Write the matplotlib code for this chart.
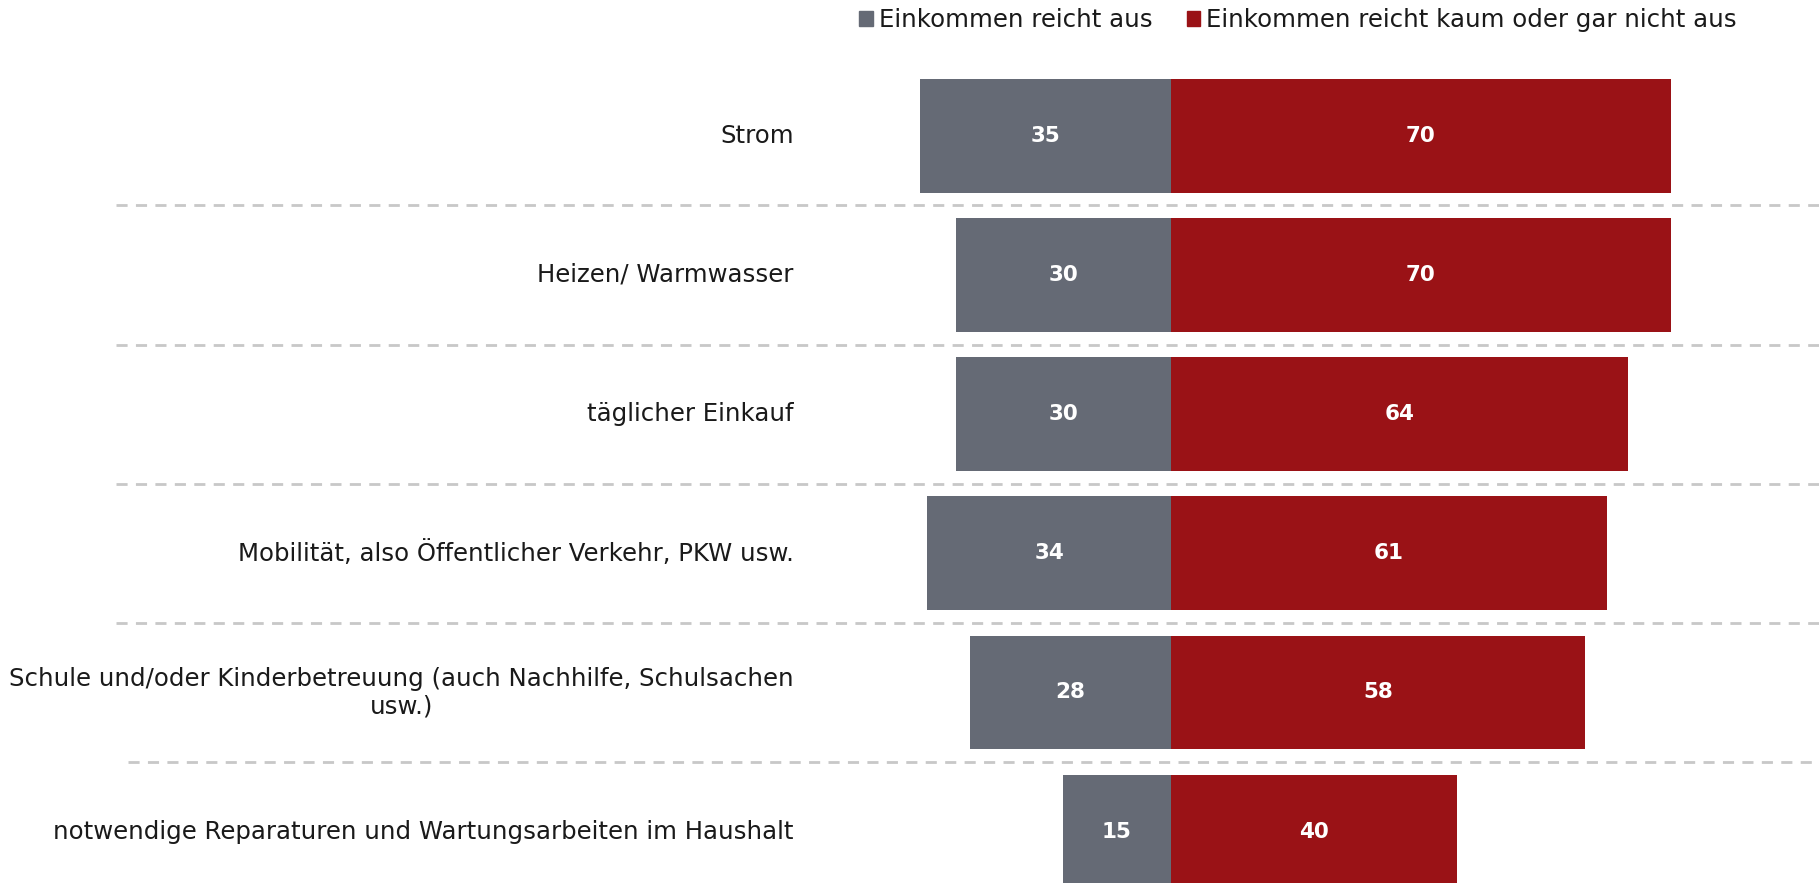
import matplotlib
matplotlib.use("Agg")
import matplotlib.pyplot as plt
import matplotlib.transforms as mtransforms
from matplotlib.patches import Patch

# data
categories = [
    "Strom",
    "Heizen/ Warmwasser",
    "täglicher Einkauf",
    "Mobilität, also Öffentlicher Verkehr, PKW usw.",
    "Schule und/oder Kinderbetreuung (auch Nachhilfe, Schulsachen\nusw.)",
    "notwendige Reparaturen und Wartungsarbeiten im Haushalt",
]
reicht_aus = [35, 30, 30, 34, 28, 15]
reicht_nicht = [70, 70, 64, 61, 58, 40]
series_names = ["Einkommen reicht aus", "Einkommen reicht kaum oder gar nicht aus"]

GREY = "#656a75"
RED = "#9a1216"
TEXT = "#1a1a1a"

plt.rcParams["font.family"] = ["DejaVu Sans"]

W, H, DPI = 1819, 883, 100
fig = plt.figure(figsize=(W / DPI, H / DPI), dpi=DPI)
ax = fig.add_axes([0, 0, 1, 1])

# pixel geometry of the reference
zero_px = 1170.6
px_per_unit = 7.15
row0_px = 135.7
pitch_px = 139.2

ax.set_xlim(-zero_px / px_per_unit, (W - zero_px) / px_per_unit)
ax.set_ylim((H - row0_px) / pitch_px, -row0_px / pitch_px)
ax.axis("off")

ypos = list(range(len(categories)))
bar_h = 113.7 / pitch_px

neg = [-v for v in reicht_aus]
ax.barh(ypos, neg, height=bar_h, color=GREY, edgecolor="none")
ax.barh(ypos, reicht_nicht, height=bar_h, color=RED, edgecolor="none")

for y, a, b in zip(ypos, reicht_aus, reicht_nicht):
    ax.text(-a / 2, y, str(a), ha="center", va="center", color="white",
            fontsize=15.5, fontweight="bold")
    ax.text(b / 2, y, str(b), ha="center", va="center", color="white",
            fontsize=15.5, fontweight="bold")

blend = mtransforms.blended_transform_factory(ax.transAxes, ax.transData)
for y, cat in zip(ypos, categories):
    ax.text(793.5 / W, y, cat, transform=blend, ha="right", va="center",
            color=TEXT, fontsize=17.6, multialignment="center", linespacing=1.2)

# dashed separators
for i in range(len(categories) - 1):
    x0 = 116 / W if i < 4 else 127.6 / W
    ax.plot([x0, 1], [i + 0.5, i + 0.5], transform=blend, color="#c8c8c8",
            lw=2, ls=(0, (4, 3)), zorder=0)

handles = [Patch(color=GREY), Patch(color=RED)]
fig.legend(handles, series_names, loc="center", bbox_to_anchor=(1298 / W, 1 - 20 / H),
           ncol=2, frameon=False, fontsize=17.6, handlelength=0.55, handleheight=0.55,
           handletextpad=0.25, columnspacing=1.4, labelcolor=TEXT)

fig.savefig("out.png", dpi=DPI)
